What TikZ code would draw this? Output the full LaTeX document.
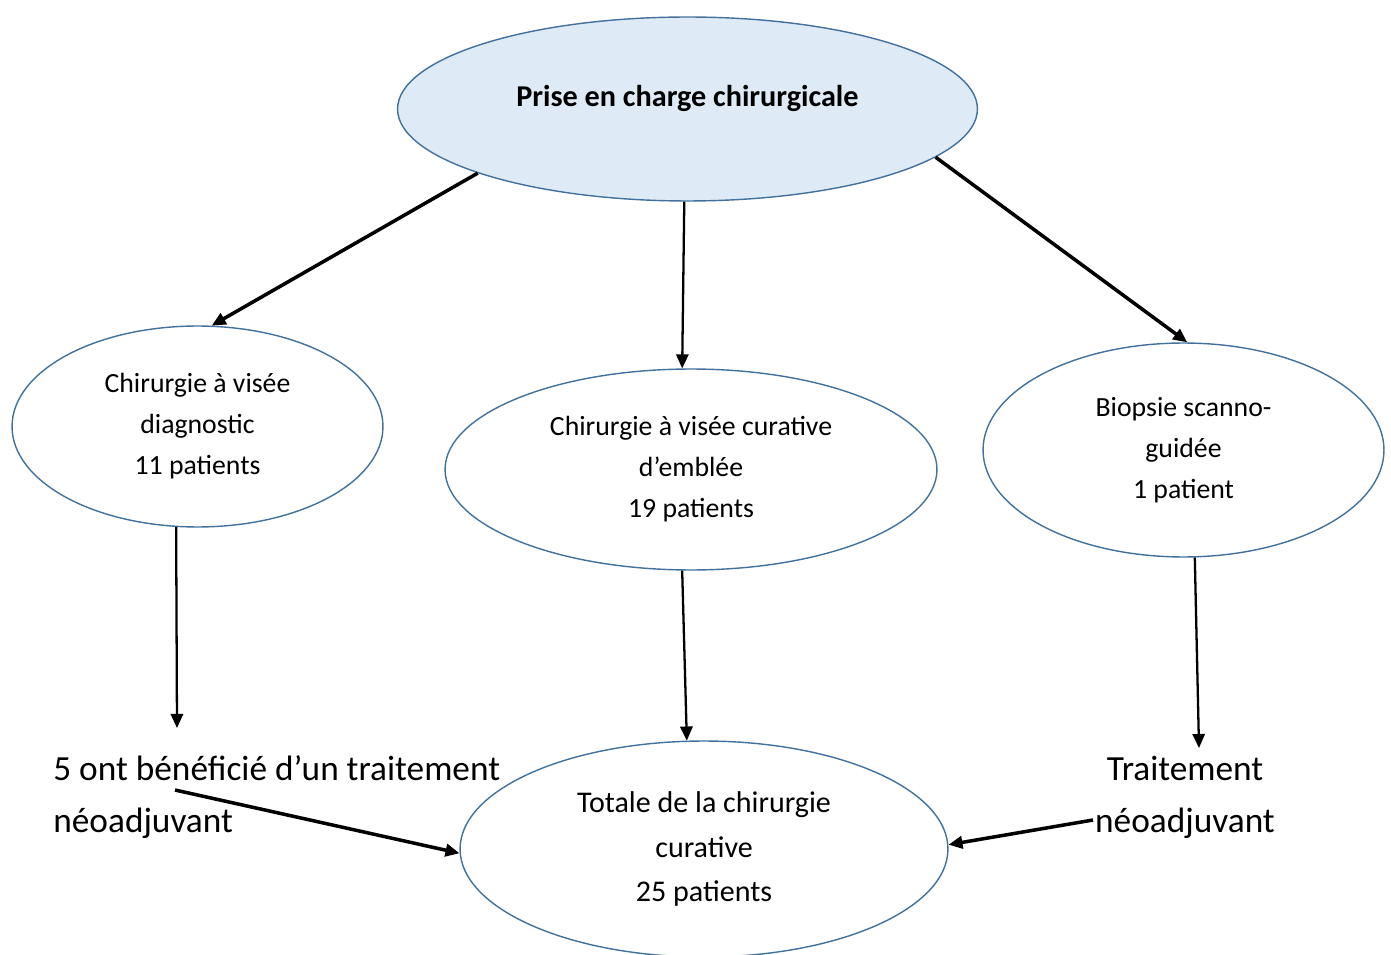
\documentclass[tikz,border=0pt]{standalone}
\usepackage{fontspec}
\setmainfont{Carlito}
\usepackage{tikz}
\usetikzlibrary{shapes.geometric}
\usetikzlibrary{arrows.meta}
\definecolor{bordblue}{RGB}{65,113,156}
\definecolor{fillblue}{RGB}{222,235,247}
\tikzset{ell/.style = {draw = bordblue, line width = 0.8pt, ellipse, inner sep = 0, align = center, font = \fontsize{15.8}{23.3}\selectfont}}
\tikzset{txt/.style = {inner sep = 0, font = \fontsize{20.1}{29.6}\selectfont}}
\tikzset{arr/.style = {-{Triangle[length = 8pt, width = 7pt]}, line width = 2pt}}
\tikzset{thinarr/.style = {arr, line width = 1.3pt}}

\begin{document}
\begin{tikzpicture}[x = 0.02cm, y = -0.02cm]
  \useasboundingbox (0, 0) rectangle (1391, 955);
  % ellipses
  \node [ell, fill = fillblue, minimum width = 11.6cm, minimum height = 3.68cm,
    label = {[font = \fontsize{17.2}{20}\selectfont\bfseries, yshift = 6.2pt]center:Prise en charge chirurgicale}] (prise) at (687.5, 109) {};
  \node [ell, minimum width = 7.42cm, minimum height = 4.02cm] (diag) at (197.5, 426.5) {Chirurgie à visée\\diagnostic\\11 patients};
  \node [ell, minimum width = 9.84cm, minimum height = 4.02cm] (cura) at (691, 469.5) {Chirurgie à visée curative\\d’emblée\\19 patients};
  \node [ell, minimum width = 8.02cm, minimum height = 4.28cm] (biop) at (1183.5, 450) {Biopsie scanno-\\guidée\\1 patient};
  \node [ell, font = \fontsize{17.1}{25.3}\selectfont, minimum width = 9.76cm, minimum height = 4.32cm] (totale) at (704, 849) {Totale de la chirurgie\\curative\\25 patients};
  % free texts
  \node [txt, anchor = west, align = left] (neo1) at (53, 797) {5 ont bénéficié d’un traitement\\néoadjuvant};
  \node [txt, align = center] (neo2) at (1185, 797) {Traitement\\néoadjuvant};
  % arrows
  \coordinate (d1) at (177, 728);
  \coordinate (d2) at (1199, 748);
  \coordinate (s1) at (175, 790);
  \coordinate (s2) at (1093, 820);
  \draw [arr] (prise.197) -- (diag.82);
  \draw [thinarr] (prise.268) -- (cura.95);
  \draw [arr] (prise.349) -- (biop.88);
  \draw [thinarr] (diag.258) -- (d1);
  \draw [thinarr] (cura.265) -- (totale.99);
  \draw [thinarr] (biop.276) -- (d2);
  \draw [arr] (s1) -- (totale.181);
  \draw [arr] (s2) -- (totale.1);
\end{tikzpicture}
\end{document}
